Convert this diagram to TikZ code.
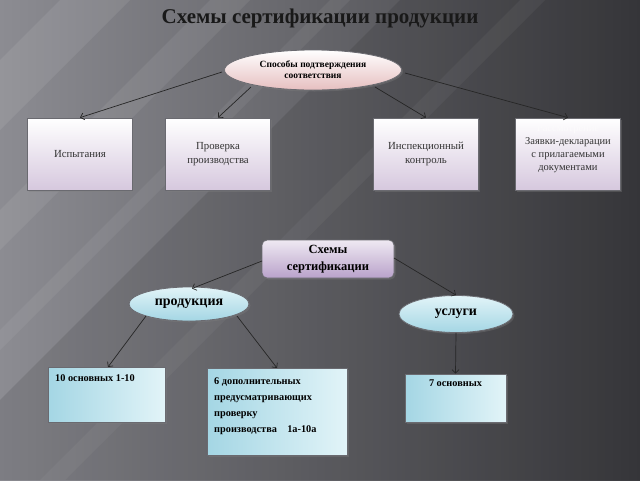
\documentclass[tikz,border=0pt]{standalone}
\usepackage{fontspec}
\setmainfont{Liberation Serif}
\usetikzlibrary{shapes.geometric,arrows.meta,shadows}
\definecolor{bgL}{HTML}{8C8C92}
\definecolor{bgR}{HTML}{3C3C40}
\definecolor{lav}{HTML}{D6C8DE}
\definecolor{lavD}{HTML}{B9A2CB}
\definecolor{pinkD}{HTML}{E6BFC0}
\definecolor{cyanL}{HTML}{E2F4F8}
\definecolor{cyanD}{HTML}{A4D6E4}
\definecolor{edgeG}{HTML}{6A6A70}
\tikzset{
  x=1pt,y=-1pt,
  conn/.style={draw=black!85,line width=0.7pt,-{Straight Barb[length=3.5pt,width=7pt]}},
  methodbox/.style={draw=edgeG,line width=0.8pt,top color=white,bottom color=lav,
     minimum width=105pt,minimum height=72pt,align=center,font=\fontsize{10.8}{13.5}\selectfont,
     text=black!80,
     drop shadow={opacity=0.35,shadow xshift=1.5pt,shadow yshift=-1.5pt}},
  methodtext/.style={align=center,inner sep=0pt,font=\fontsize{10.5}{13}\selectfont,text=black!80},
  topoval/.style={ellipse,draw=edgeG,line width=0.8pt,top color=white,bottom color=pinkD,
     minimum width=177pt,minimum height=40pt,inner sep=0pt,align=center,font=\bfseries\fontsize{9.5}{11}\selectfont,
     drop shadow={opacity=0.35,shadow xshift=1.5pt,shadow yshift=-1.5pt}},
  schemebox/.style={draw=edgeG,line width=0.8pt,rounded corners=5pt,top color=lav!40,bottom color=lavD,
     minimum width=132pt,minimum height=38pt,inner sep=0pt,align=center,font=\bfseries\fontsize{12.5}{16.5}\selectfont,
     drop shadow={opacity=0.35,shadow xshift=1.5pt,shadow yshift=-1.5pt}},
  cyoval/.style={ellipse,draw=edgeG,line width=0.8pt,top color=cyanL,bottom color=cyanD,inner sep=0pt,
     align=center,font=\bfseries\fontsize{14}{16}\selectfont,
     drop shadow={opacity=0.35,shadow xshift=1.5pt,shadow yshift=-1.5pt}},
  cybox/.style={draw=edgeG,line width=0.8pt,shading=axis,shading angle=60,left color=cyanD,right color=cyanL,
     drop shadow={opacity=0.35,shadow xshift=1.5pt,shadow yshift=-1.5pt}},
  cytext/.style={align=left,font=\bfseries\fontsize{10.3}{16}\selectfont,inner sep=0pt},
}
\begin{document}
\begin{tikzpicture}
% background
\path[left color=bgL,right color=bgR] (0,0) rectangle (640,480);
\useasboundingbox (0,0) rectangle (640,480);
\fill[white,opacity=0.08] (0,60) -- (60,0) -- (130,0) -- (0,130) -- cycle;
\fill[white,opacity=0.07] (0,210) -- (210,0) -- (250,0) -- (0,250) -- cycle;
\fill[white,opacity=0.06] (0,330) -- (330,0) -- (350,0) -- (0,350) -- cycle;
\fill[white,opacity=0.05] (40,480) -- (520,0) -- (545,0) -- (65,480) -- cycle;
\fill[black,opacity=0.10] (0,480) -- (0,400) -- (400,0) -- (640,0) -- (640,480) -- cycle;

% title
\node[font=\bfseries\fontsize{21}{24}\selectfont,text=black!90] (title) at (320,18) {Схемы сертификации продукции};

% top level
\node[topoval] (ways) at (313,70) {Способы подтверждения\\соответствия};
\node[methodbox] (isp) at (80,154) {Испытания};
\node[methodbox] (prov) at (218,154) {Проверка\\производства};
\node[methodbox] (insp) at (426,154) {Инспекционный\\контроль};
\node[methodbox] (zayav) at (568,154) {};
\node[methodtext] (zayavtxt) at (568,148.5) {\textcolor{white!92!lav}{Рассмотрение}\\Заявки-декларации\\с прилагаемыми\\документами};

\coordinate (w1) at (222,72);
\coordinate (w2) at (251,87);
\coordinate (w3) at (375,87);
\coordinate (w4) at (405,73);
\draw[conn] (w1) -- (isp.north);
\draw[conn] (w2) -- (prov.north);
\draw[conn] (w3) -- (insp.north);
\draw[conn] (w4) -- (zayav.north);

% second diagram
\node[schemebox] (schemes) at (328,259) {Схемы\\сертификации};
\node[cyoval,minimum width=120pt,minimum height=34pt] (prod) at (189,304) {продукция};
\node[cyoval,minimum width=114pt,minimum height=37pt] (usl) at (456,314) {услуги};

\node[cybox,minimum width=117pt,minimum height=55pt] (b10) at (106.5,394.5) {};
\node[cybox,minimum width=140pt,minimum height=87pt] (b6) at (277,411.5) {};
\node[cybox,minimum width=101pt,minimum height=48pt] (b7) at (455.5,398) {};

\node[cytext,anchor=north west] (t10) at (55,374) {10 основных 1-10};
\node[cytext,anchor=north west] (t6) at (214,377) {6 дополнительных\\предусматривающих\\проверку\\производства\quad 1а-10а};
\node[cytext,anchor=north] (t7) at (455.5,380) {7 основных};

\coordinate (sL) at (262,261);
\coordinate (sR) at (394,258);
\coordinate (pL) at (146,316);
\coordinate (pR) at (237,316);
\coordinate (b10t) at (108,367);
\coordinate (b6t) at (277,368);
\coordinate (pT) at (192,288.5);
\draw[conn] (sL) -- (pT);
\draw[conn] (sR) -- (usl.north);
\draw[conn] (pL) -- (b10t);
\draw[conn] (pR) -- (b6t);
\draw[conn] (usl.south) -- (b7.north);
\end{tikzpicture}
\end{document}
